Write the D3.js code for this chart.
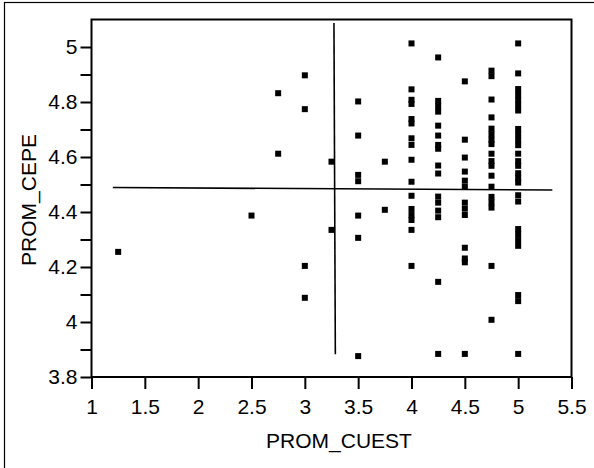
<!DOCTYPE html>
<html>
<head>
<meta charset="utf-8">
<script src="https://cdn.jsdelivr.net/npm/d3@7"></script>
<style>
  body { margin: 0; background: #fff; }
  svg { display: block; font-family: "Liberation Sans", Arial, sans-serif; }
</style>
</head>
<body>
<div id="chart"></div>
<script>
const width = 594,
    height = 468;

// PROM_CUEST levels and the PROM_CEPE values observed at each level
const cuestLevels = [1.25, 2.5, 2.75, 3, 3.25, 3.5, 3.75, 4, 4.25, 4.5, 4.75, 5];
const cepeByLevel = [
    [4.255],
    [4.387],
    [4.832, 4.612],
    [4.897, 4.774, 4.204, 4.088],
    [4.583, 4.335],
    [4.802, 4.678, 4.535, 4.512, 4.387, 4.306, 3.876],
    [4.583, 4.408],
    [5.013, 4.846, 4.808, 4.793, 4.722, 4.738, 4.668, 4.644, 4.590, 4.510, 4.459, 4.411, 4.389, 4.371, 4.335, 4.204],
    [4.962, 4.804, 4.785, 4.765, 4.714, 4.678, 4.644, 4.630, 4.569, 4.540, 4.456, 4.434, 4.405, 4.381, 4.146, 3.884],
    [4.875, 4.663, 4.598, 4.547, 4.514, 4.492, 4.434, 4.412, 4.389, 4.270, 4.231, 4.217, 3.884],
    [4.914, 4.894, 4.809, 4.744, 4.703, 4.683, 4.663, 4.647, 4.612, 4.585, 4.568, 4.532, 4.492, 4.455, 4.435, 4.416, 4.204, 4.008],
    [5.013, 4.904, 4.847, 4.827, 4.808, 4.789, 4.769, 4.702, 4.683, 4.662, 4.643, 4.612, 4.585, 4.568, 4.541, 4.523, 4.507, 4.461, 4.438, 4.338, 4.319, 4.298, 4.277, 4.098, 4.076, 3.884]
];

// reference lines (horizontal and vertical) drawn across the cloud
const hLine = [[1.2, 4.489], [5.32, 4.480]];
const vLine = [[3.273, 5.087], [3.286, 3.883]];

const xTicks = [1, 1.5, 2, 2.5, 3, 3.5, 4, 4.5, 5, 5.5];
const yTicks = [3.8, 3.9, 4, 4.1, 4.2, 4.3, 4.4, 4.5, 4.6, 4.7, 4.8, 4.9, 5];
const yLabels = ["3.8", "", "4", "", "4.2", "", "4.4", "", "4.6", "", "4.8", "", "5"];

const points = [];
cuestLevels.forEach((x, i) => cepeByLevel[i].forEach(y => points.push({ x: x, y: y })));

const plot = { left: 91.5, right: 571.5, top: 19.5, bottom: 377 };
const fontSize = "21px";

const svg = d3.select("#chart")
    .append("svg")
    .attr("width", width)
    .attr("height", height);

// outer frame (runs off the right/bottom of the picture)
svg.append("rect")
    .attr("x", 4.5).attr("y", 2.5)
    .attr("width", 700).attr("height", 600)
    .attr("fill", "none")
    .attr("stroke", "#000")
    .attr("stroke-width", 1.2);

const x = d3.scaleLinear().domain([1, 5.5]).range([plot.left, plot.right]);
const y = d3.scaleLinear().domain([3.8, 5.1]).range([plot.bottom, plot.top]);

// plot box
svg.append("rect")
    .attr("x", plot.left).attr("y", plot.top)
    .attr("width", plot.right - plot.left)
    .attr("height", plot.bottom - plot.top)
    .attr("fill", "none")
    .attr("stroke", "#000")
    .attr("stroke-width", 2);

const xAxis = svg.append("g")
    .attr("transform", `translate(0,${plot.bottom})`)
    .call(d3.axisBottom(x).tickValues(xTicks).tickSize(12).tickPadding(10).tickFormat(d3.format("~g")));

const yAxis = svg.append("g")
    .attr("transform", `translate(${plot.left},0)`)
    .call(d3.axisLeft(y).tickValues(yTicks).tickSize(11).tickPadding(3).tickFormat((d, i) => yLabels[i]));

[xAxis, yAxis].forEach(g => {
    g.select(".domain").remove();
    g.selectAll(".tick line").attr("stroke", "#000").attr("stroke-width", 2);
    g.selectAll(".tick text")
        .attr("fill", "#000")
        .style("font-size", fontSize)
        .style("font-family", "'Liberation Sans', Arial, sans-serif");
});

// axis titles
svg.append("text")
    .attr("x", 339)
    .attr("y", 448)
    .attr("text-anchor", "middle")
    .attr("fill", "#000")
    .style("font-size", fontSize)
    .text("PROM_CUEST");

svg.append("text")
    .attr("transform", "translate(36,200) rotate(-90)")
    .attr("text-anchor", "middle")
    .attr("fill", "#000")
    .style("font-size", fontSize)
    .text("PROM_CEPE");

// reference lines
const line = d3.line().x(d => x(d[0])).y(d => y(d[1]));
[hLine, vLine].forEach(l => {
    svg.append("path")
        .attr("d", line(l))
        .attr("fill", "none")
        .attr("stroke", "#000")
        .attr("stroke-width", 1.6);
});

// markers: small filled squares
const size = 6;
svg.selectAll(".pt")
    .data(points)
    .enter()
    .append("rect")
    .attr("class", "pt")
    .attr("x", d => x(d.x) - size / 2)
    .attr("y", d => y(d.y) - size / 2)
    .attr("width", size)
    .attr("height", size)
    .attr("fill", "#000");
</script>
</body>
</html>
